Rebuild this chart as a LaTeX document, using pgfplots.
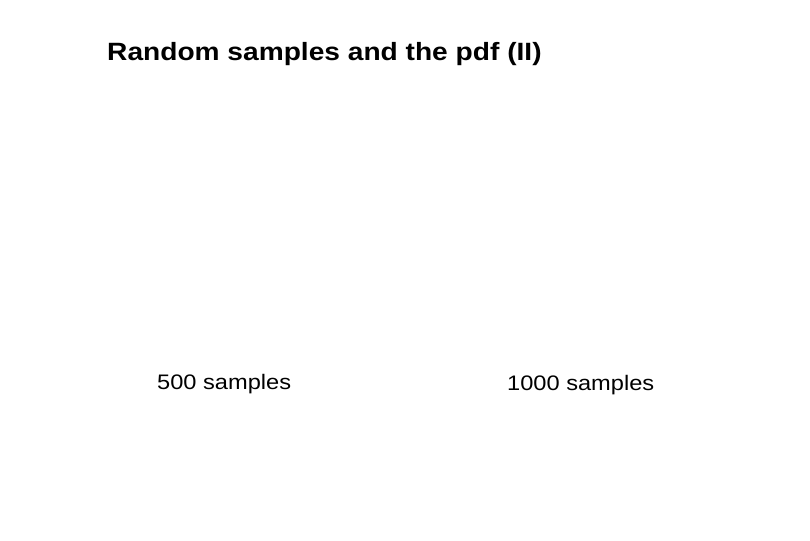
\documentclass[border=0pt]{standalone}
\usepackage{pgfplots}
\pgfplotsset{compat=1.18}
\usepackage{fontspec}
\setmainfont{Liberation Sans}

% slide text is stretched horizontally (4:3 slide shown at 3:2)
\newcommand{\wide}[1]{\scalebox{1.125}[1]{#1}}

\begin{document}
\begin{tikzpicture}
\begin{axis}[
    width=810pt, height=540pt,
    scale only axis,
    hide axis,
    clip=false,
    xmin=0, xmax=810,
    ymin=0, ymax=540,
    y dir=reverse,
]
\path (rel axis cs:0,0) rectangle (rel axis cs:1,1);

\node[anchor=base west, inner sep=0pt] at (axis cs:107,61)
    {\wide{\fontsize{25}{30}\selectfont\bfseries Random samples and the pdf (II)}};

\node[anchor=base west, inner sep=0pt] at (axis cs:157,389)
    {\wide{\fontsize{21}{25}\selectfont 500 samples}};
\node[anchor=base west, inner sep=0pt] at (axis cs:507,390)
    {\wide{\fontsize{21}{25}\selectfont 1000 samples}};
\end{axis}
\end{tikzpicture}
\end{document}
